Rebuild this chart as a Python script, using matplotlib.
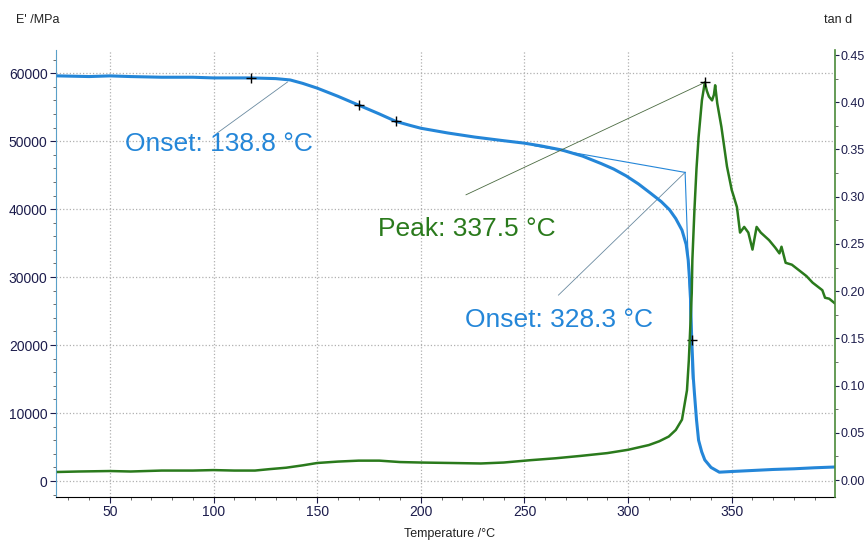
import matplotlib.pyplot as plt
from matplotlib.ticker import MultipleLocator, FormatStrFormatter

plt.rcParams['font.family'] = ['Liberation Sans', 'DejaVu Sans']

# storage modulus E' (MPa) vs temperature
temp_e = [25, 40, 50, 60, 75, 90, 100, 118, 130, 137, 143, 150, 160, 170, 180,
          188, 195, 200, 213, 226, 239, 250, 258, 268, 278, 287, 293, 299, 305,
          311, 316, 320, 323, 326, 328, 329, 330, 330.7, 331.5, 332, 333, 334,
          335.5, 337, 340, 344, 350, 360, 370, 380, 390, 399.5]
e_mod = [59600, 59500, 59600, 59500, 59400, 59400, 59300, 59300, 59200, 59000,
         58500, 57800, 56600, 55300, 54000, 52900, 52300, 51900, 51200, 50600,
         50100, 49700, 49300, 48700, 47800, 46700, 45900, 44900, 43700, 42300,
         41100, 39900, 38600, 36900, 34800, 32500, 28000, 20700, 15000, 12900,
         9000, 6000, 4300, 3100, 2000, 1300, 1400, 1550, 1700, 1800, 1950, 2060]

# loss factor tan d vs temperature
temp_t = [25, 35, 50, 60, 75, 90, 100, 110, 120, 127, 135, 143, 150, 160, 170,
          180, 190, 200, 215, 229, 240, 253, 265, 277, 290, 300, 310, 315, 319.6,
          323, 326, 328.4, 329.3, 330, 330.7, 331, 332, 333, 334, 335.6, 337,
          338, 339, 340.5, 341.4, 342, 343, 345, 347.7, 350, 351, 352.5, 354,
          356, 358, 360, 362, 364, 368, 371, 373, 374, 376, 379, 382.5, 386,
          389, 393.7, 395, 397, 399.5]
tan_d = [0.0085, 0.009, 0.0095, 0.009, 0.010, 0.010, 0.0105, 0.010, 0.010,
         0.0115, 0.013, 0.0155, 0.018, 0.0195, 0.0205, 0.0205, 0.019, 0.0185,
         0.018, 0.0175, 0.0185, 0.021, 0.023, 0.0255, 0.0285, 0.032, 0.037,
         0.041, 0.046, 0.053, 0.064, 0.095, 0.127, 0.162, 0.198, 0.233, 0.286,
         0.330, 0.363, 0.402, 0.421, 0.412, 0.406, 0.402, 0.408, 0.418, 0.399,
         0.374, 0.332, 0.307, 0.300, 0.289, 0.262, 0.268, 0.262, 0.244, 0.268,
         0.262, 0.254, 0.246, 0.240, 0.247, 0.230, 0.228, 0.222, 0.216, 0.209,
         0.201, 0.193, 0.192, 0.1875]

# marked points
e_marks_t = [118, 170, 188, 330.7]
e_marks_v = [59300, 55300, 52900, 20700]
peak_t, peak_v = 337, 0.421

# onset construction (tangents) for 328.3 onset
tan_base_t = [255, 327.5]
tan_base_e = [49300, 45400]
tan_steep_t = [327.5, 331]
tan_steep_e = [45400, 15000]

blue = '#2486d8'
green = '#2a7a1c'
tick_col = '#1c1c4c'

fig = plt.figure(figsize=(8.65, 5.44), dpi=100)
ax = fig.add_axes([0.0647, 0.0864, 0.9006, 0.8216])
ax2 = ax.twinx()

ax.plot(temp_e, e_mod, color=blue, lw=2.2, zorder=3)
ax2.plot(temp_t, tan_d, color=green, lw=1.8, zorder=2)
ax.plot(e_marks_t, e_marks_v, '+', color='black', ms=7, mew=1, zorder=4)
ax2.plot([peak_t], [peak_v], '+', color='black', ms=7, mew=1, zorder=4)

ax.plot(tan_base_t, tan_base_e, color=blue, lw=0.8, zorder=3)
ax.plot(tan_steep_t, tan_steep_e, color=blue, lw=0.8, zorder=3)

# annotation leader lines
ax.plot([101.8, 135.7], [51200, 58700], color='#6a8aa0', lw=0.6)
ax.plot([266.4, 327.5], [27350, 45400], color='#6a8aa0', lw=0.6)
ax2.plot([221.8, peak_t], [0.302, peak_v], color='#4a6a40', lw=0.6)

ax.set_xlim(24, 399.8)
ax.set_ylim(-2350, 63400)
ax2.set_ylim(-0.018, 0.4553)

ax.xaxis.set_major_locator(MultipleLocator(50))
ax.xaxis.set_minor_locator(MultipleLocator(10))
ax.yaxis.set_major_locator(MultipleLocator(10000))
ax.yaxis.set_minor_locator(MultipleLocator(2000))
ax2.yaxis.set_major_locator(MultipleLocator(0.05))
ax2.yaxis.set_minor_locator(MultipleLocator(0.025))
ax2.yaxis.set_major_formatter(FormatStrFormatter('%.2f'))

ax.grid(True, which='major', color='#b0b0b0', ls=':', lw=0.9)

for a in (ax, ax2):
    a.spines['top'].set_visible(False)
    a.tick_params(labelsize=10, colors=tick_col, length=4, width=0.8, pad=2)
    a.tick_params(which='minor', length=2, width=0.6, colors='#555555')
ax2.tick_params(labelsize=9, length=3, pad=1)
ax.spines['left'].set_color('#5aa0c8')
ax.spines['right'].set_visible(False)
ax2.spines['left'].set_visible(False)
ax2.spines['right'].set_color('#4a8a3a')
ax2.spines['right'].set_linewidth(1.2)
ax.spines['bottom'].set_color('black')
ax2.spines['bottom'].set_visible(False)

ax.text(0.0886, 0.79, 'Onset: 138.8 °C', transform=ax.transAxes, color=blue,
        fontsize=19, va='center', ha='left')
ax.text(0.413, 0.60, 'Peak: 337.5 °C', transform=ax.transAxes, color=green,
        fontsize=19, va='center', ha='left')
ax.text(0.525, 0.395, 'Onset: 328.3 °C', transform=ax.transAxes, color=blue,
        fontsize=19, va='center', ha='left')

fig.text(0.018, 0.963, "E' /MPa", fontsize=9, color='#222222', va='center')
fig.text(0.985, 0.963, 'tan d', fontsize=9, color='#222222', va='center', ha='right')
fig.text(0.52, 0.018, 'Temperature /°C', fontsize=9, color='#222222',
         va='center', ha='center')

fig.savefig('out.png', dpi=100)
